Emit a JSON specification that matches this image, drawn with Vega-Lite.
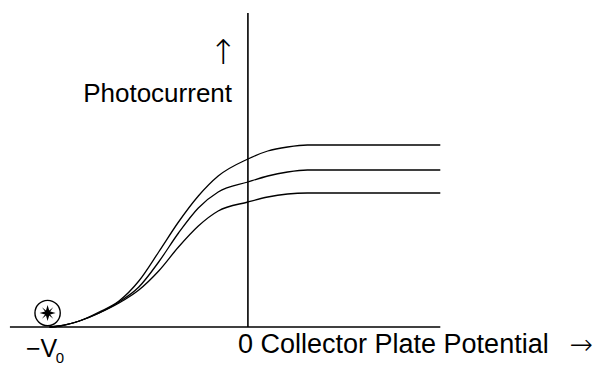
{
  "$schema": "https://vega.github.io/schema/vega-lite/v6.json",
  "width": 595,
  "height": 367,
  "autosize": {"type": "none"},
  "padding": 0,
  "background": "white",
  "config": {"view": {"stroke": null}},
  "datasets": {
    "curves": [
      {"curve": "high", "v": -2.0, "i": 0},
      {"curve": "high", "v": -1.9, "i": 0.01},
      {"curve": "high", "v": -1.7, "i": 0.06},
      {"curve": "high", "v": -1.5, "i": 0.15},
      {"curve": "high", "v": -1.3, "i": 0.26},
      {"curve": "high", "v": -1.1, "i": 0.46},
      {"curve": "high", "v": -0.9, "i": 0.75},
      {"curve": "high", "v": -0.7, "i": 1.05},
      {"curve": "high", "v": -0.5, "i": 1.31},
      {"curve": "high", "v": -0.3, "i": 1.51},
      {"curve": "high", "v": 0.0, "i": 1.68},
      {"curve": "high", "v": 0.2, "i": 1.76},
      {"curve": "high", "v": 0.4, "i": 1.8},
      {"curve": "high", "v": 0.6, "i": 1.82},
      {"curve": "high", "v": 1.94, "i": 1.82},
      {"curve": "mid", "v": -2.0, "i": 0},
      {"curve": "mid", "v": -1.9, "i": 0.01},
      {"curve": "mid", "v": -1.7, "i": 0.06},
      {"curve": "mid", "v": -1.5, "i": 0.14},
      {"curve": "mid", "v": -1.3, "i": 0.25},
      {"curve": "mid", "v": -1.1, "i": 0.4},
      {"curve": "mid", "v": -0.9, "i": 0.65},
      {"curve": "mid", "v": -0.7, "i": 0.94},
      {"curve": "mid", "v": -0.5, "i": 1.19},
      {"curve": "mid", "v": -0.3, "i": 1.35},
      {"curve": "mid", "v": 0.0, "i": 1.45},
      {"curve": "mid", "v": 0.2, "i": 1.51},
      {"curve": "mid", "v": 0.4, "i": 1.55},
      {"curve": "mid", "v": 0.6, "i": 1.57},
      {"curve": "mid", "v": 1.94, "i": 1.57},
      {"curve": "low", "v": -2.0, "i": 0},
      {"curve": "low", "v": -1.9, "i": 0.01},
      {"curve": "low", "v": -1.7, "i": 0.06},
      {"curve": "low", "v": -1.5, "i": 0.14},
      {"curve": "low", "v": -1.3, "i": 0.24},
      {"curve": "low", "v": -1.1, "i": 0.37},
      {"curve": "low", "v": -0.9, "i": 0.56},
      {"curve": "low", "v": -0.7, "i": 0.8},
      {"curve": "low", "v": -0.5, "i": 1.01},
      {"curve": "low", "v": -0.3, "i": 1.16},
      {"curve": "low", "v": 0.0, "i": 1.25},
      {"curve": "low", "v": 0.2, "i": 1.3},
      {"curve": "low", "v": 0.4, "i": 1.33},
      {"curve": "low", "v": 0.6, "i": 1.34},
      {"curve": "low", "v": 1.94, "i": 1.34}
    ],
    "axes": [
      {"v": -2.4, "v2": 1.94, "i": 0, "i2": 0},
      {"v": 0, "v2": 0, "i": 0, "i2": 3.14}
    ],
    "source": [{"v": -2.02, "i": 0.14}],
    "yLabel": [{"label": "Photocurrent", "v": -0.16, "i": 2.25}],
    "xLabel": [{"label": "0 Collector Plate Potential", "v": -0.1, "i": -0.26}],
    "xArrow": [{"label": "\u2192", "v": 3.36, "i": -0.19}],
    "v0": [{"label": "\u2212V", "v": -2.08, "i": -0.3}],
    "yArrow": [{"label": "\u2191", "v": -0.25, "i": 2.735}],
    "subText": [{"label": "0", "v": -1.895, "i": -0.355}]
  },
  "layer": [
    {
      "data": {"name": "axes"},
      "mark": {"type": "rule", "color": "black", "strokeWidth": 1.6},
      "encoding": {
        "x": {"field": "v", "type": "quantitative", "scale": {"domain": [-2.5, 3.5]}, "axis": null},
        "x2": {"field": "v2"},
        "y": {"field": "i", "type": "quantitative", "scale": {"domain": [-0.4, 3.27]}, "axis": null},
        "y2": {"field": "i2"}
      }
    },
    {
      "data": {"name": "curves"},
      "mark": {"type": "line", "color": "black", "strokeWidth": 1.3, "interpolate": "monotone"},
      "encoding": {
        "x": {"field": "v", "type": "quantitative", "scale": {"domain": [-2.5, 3.5]}, "axis": null},
        "y": {"field": "i", "type": "quantitative", "scale": {"domain": [-0.4, 3.27]}, "axis": null},
        "detail": {"field": "curve"}
      }
    },
    {
      "data": {"name": "source"},
      "mark": {"type": "point", "shape": "circle", "filled": false, "stroke": "black", "strokeWidth": 1.4, "size": 640, "opacity": 1},
      "encoding": {
        "x": {"field": "v", "type": "quantitative", "scale": {"domain": [-2.5, 3.5]}, "axis": null},
        "y": {"field": "i", "type": "quantitative", "scale": {"domain": [-0.4, 3.27]}, "axis": null}
      }
    },
    {
      "data": {"name": "source"},
      "mark": {"type": "point", "shape": "M0,-1L0.2,-0.32L0.7,-0.7L0.32,-0.2L1,0L0.32,0.2L0.7,0.7L0.2,0.32L0,1L-0.2,0.32L-0.7,0.7L-0.32,0.2L-1,0L-0.32,-0.2L-0.7,-0.7L-0.2,-0.32Z", "filled": true, "fill": "black", "size": 260, "opacity": 1},
      "encoding": {
        "x": {"field": "v", "type": "quantitative", "scale": {"domain": [-2.5, 3.5]}, "axis": null},
        "y": {"field": "i", "type": "quantitative", "scale": {"domain": [-0.4, 3.27]}, "axis": null}
      }
    },
    {
      "data": {"name": "yLabel"},
      "mark": {"type": "text", "font": "Liberation Sans", "fontSize": 26, "color": "black", "baseline": "alphabetic", "align": "right"},
      "encoding": {
        "x": {"field": "v", "type": "quantitative", "scale": {"domain": [-2.5, 3.5]}, "axis": null},
        "y": {"field": "i", "type": "quantitative", "scale": {"domain": [-0.4, 3.27]}, "axis": null},
        "text": {"field": "label"}
      }
    },
    {
      "data": {"name": "xLabel"},
      "mark": {"type": "text", "font": "Liberation Sans", "fontSize": 27, "color": "black", "baseline": "alphabetic", "align": "left"},
      "encoding": {
        "x": {"field": "v", "type": "quantitative", "scale": {"domain": [-2.5, 3.5]}, "axis": null},
        "y": {"field": "i", "type": "quantitative", "scale": {"domain": [-0.4, 3.27]}, "axis": null},
        "text": {"field": "label"}
      }
    },
    {
      "data": {"name": "xArrow"},
      "mark": {"type": "text", "font": "DejaVu Sans", "fontSize": 28, "fontWeight": 200, "color": "black", "baseline": "middle", "align": "center"},
      "encoding": {
        "x": {"field": "v", "type": "quantitative", "scale": {"domain": [-2.5, 3.5]}, "axis": null},
        "y": {"field": "i", "type": "quantitative", "scale": {"domain": [-0.4, 3.27]}, "axis": null},
        "text": {"field": "label"}
      }
    },
    {
      "data": {"name": "v0"},
      "mark": {"type": "text", "font": "Liberation Sans", "fontSize": 25, "color": "black", "baseline": "alphabetic", "align": "center"},
      "encoding": {
        "x": {"field": "v", "type": "quantitative", "scale": {"domain": [-2.5, 3.5]}, "axis": null},
        "y": {"field": "i", "type": "quantitative", "scale": {"domain": [-0.4, 3.27]}, "axis": null},
        "text": {"field": "label"}
      }
    },
    {
      "data": {"name": "yArrow"},
      "mark": {"type": "text", "font": "DejaVu Sans", "fontSize": 34, "fontWeight": 200, "color": "black", "baseline": "middle", "align": "center"},
      "encoding": {
        "x": {"field": "v", "type": "quantitative", "scale": {"domain": [-2.5, 3.5]}, "axis": null},
        "y": {"field": "i", "type": "quantitative", "scale": {"domain": [-0.4, 3.27]}, "axis": null},
        "text": {"field": "label"}
      }
    },
    {
      "data": {"name": "subText"},
      "mark": {"type": "text", "font": "Liberation Sans", "fontSize": 15, "color": "black", "baseline": "alphabetic", "align": "center"},
      "encoding": {
        "x": {"field": "v", "type": "quantitative", "scale": {"domain": [-2.5, 3.5]}, "axis": null},
        "y": {"field": "i", "type": "quantitative", "scale": {"domain": [-0.4, 3.27]}, "axis": null},
        "text": {"field": "label"}
      }
    }
  ]
}
